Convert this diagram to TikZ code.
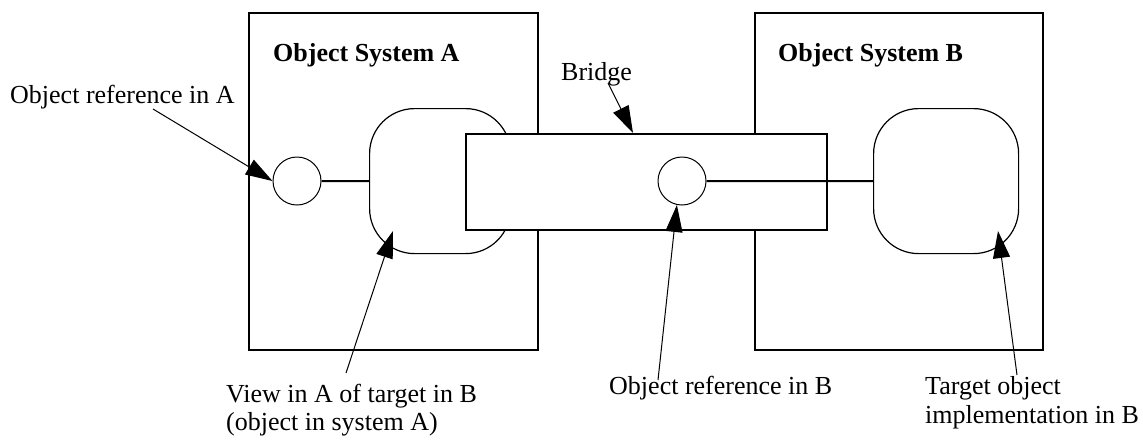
\documentclass[tikz,border=0pt]{standalone}
\usepackage{fontspec}
\setmainfont{Liberation Serif}
\usetikzlibrary{arrows.meta}
\begin{document}
\begin{tikzpicture}[x=1pt,y=-1pt,
  sysbox/.style={draw, line width=2pt, fill=white, inner sep=0pt, anchor=north west},
  viewbox/.style={draw, line width=1.2pt, rounded corners=45pt, inner sep=0pt, anchor=north west, minimum height=145pt},
  refcirc/.style={draw, circle, line width=1pt, minimum size=48pt, inner sep=0pt, fill=white},
  link/.style={line width=2pt},
  lbl/.style={inner sep=0pt, anchor=base west, font=\fontsize{26}{28}\selectfont},
  ttl/.style={inner sep=0pt, anchor=base west, font=\fontsize{26}{28}\selectfont\bfseries},
  pointer/.style={line width=1pt, -{Triangle[length=27pt,width=17pt]}},
  ]
\useasboundingbox (0,0) rectangle (1143,440);
% object systems
\node[sysbox, minimum width=289pt, minimum height=337pt] (sysA) at (248,12) {};
\node[sysbox, minimum width=288pt, minimum height=337pt] (sysB) at (754,12) {};
\node[ttl] (tA) at (273,61) {Object System A};
\node[ttl] (tB) at (778,61) {Object System B};
% views / targets
\node[viewbox, minimum width=141pt] (rrA) at (369,108) {};
\node[viewbox, minimum width=145pt] (rrB) at (873,108) {};
% object reference in A
\node[refcirc] (cA) at (297,181) {};
\draw[link] (cA.east) -- (rrA.west);
% bridge
\node[sysbox, minimum width=361pt, minimum height=96pt] (bridge) at (465,133) {};
\node[refcirc] (cB) at (682,181) {};
\draw[link] (cB.east) -- (rrB.west);
% labels
\node[lbl] (lRefA) at (10,103) {Object reference in A};
\node[lbl] (lBridge) at (561,80) {Bridge};
\node[lbl] (lView1) at (226,402) {View in A of target in B};
\node[lbl] (lView2) at (226,430) {(object in system A)};
\node[lbl] (lRefB) at (609,394) {Object reference in B};
\node[lbl] (lTgt1) at (925,394) {Target object};
\node[lbl] (lTgt2) at (925,423) {implementation in B};
% pointer ends
\coordinate (pRefA) at (153,109);
\coordinate (pBridge) at (608,83);
\coordinate (tipBridge) at (633,133);
\coordinate (pView) at (346,373);
\coordinate (tipView) at (393,231);
\coordinate (pRefB) at (658,380);
\coordinate (pTgt) at (1017,375);
\coordinate (tipTgt) at (998,231);
% pointers
\draw[pointer] (pRefA) -- (cA.west);
\draw[pointer] (pBridge) -- (tipBridge);
\draw[pointer] (pView) -- (tipView);
\draw[pointer] (pRefB) -- (cB.258);
\draw[pointer] (pTgt) -- (tipTgt);
\end{tikzpicture}
\end{document}
